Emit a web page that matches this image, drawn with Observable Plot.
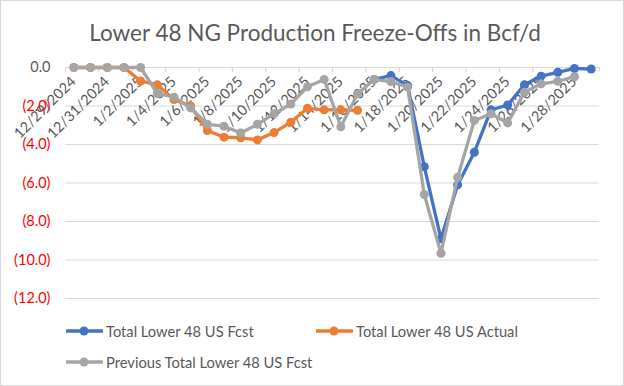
<!DOCTYPE html>
<html><head><meta charset="utf-8">
<script src="https://cdn.jsdelivr.net/npm/d3@7"></script>
<script src="https://cdn.jsdelivr.net/npm/@observablehq/plot@0.6"></script>
<style>
body{margin:0;background:#fff;}
#wrap{position:relative;width:624px;height:386px;overflow:hidden;background:#fff;font-family:Lato,sans-serif;color:#595959;}
#frame{position:absolute;left:0;top:0;width:624px;height:386px;box-sizing:border-box;border:1px solid #d9d9d9;pointer-events:none;}
#title{position:absolute;left:0;width:630px;top:21px;text-align:center;font-size:22.5px;line-height:23px;white-space:nowrap;}
#chart{position:absolute;left:0;top:0;}
.leg{position:absolute;display:flex;align-items:center;height:20px;font-size:14.7px;white-space:nowrap;color:#595959;}
.leg svg{margin-right:3px;display:block;}
</style></head>
<body>
<div id="wrap">
  <div id="chart"></div>
  <div id="title">Lower 48 NG Production Freeze-Offs in Bcf/d</div>
  <div id="legend"></div>
  <div id="frame"></div>
</div>
<script>
// ---- data ----
const dates = ["2024-12-29","2024-12-30","2024-12-31","2025-01-01","2025-01-02","2025-01-03","2025-01-04","2025-01-05",
  "2025-01-06","2025-01-07","2025-01-08","2025-01-09","2025-01-10","2025-01-11","2025-01-12","2025-01-13",
  "2025-01-14","2025-01-15","2025-01-16","2025-01-17","2025-01-18","2025-01-19","2025-01-20","2025-01-21",
  "2025-01-22","2025-01-23","2025-01-24","2025-01-25","2025-01-26","2025-01-27","2025-01-28","2025-01-29"];
const tickLabels = ["12/29/2024","12/31/2024","1/2/2025","1/4/2025","1/6/2025","1/8/2025","1/10/2025","1/12/2025",
  "1/14/2025","1/16/2025","1/18/2025","1/20/2025","1/22/2025","1/24/2025","1/26/2025","1/28/2025"];
const fcst = [null,null,null,null,null,null,null,null,null,null,null,null,null,null,null,null,null,null,
  -0.62,-0.42,-0.94,-5.15,-8.9,-6.1,-4.4,-2.2,-1.95,-0.9,-0.45,-0.25,-0.05,-0.08];
const actual = [0,0,0,0,-0.7,-0.9,-1.66,-2.0,-3.27,-3.62,-3.65,-3.76,-3.38,-2.84,-2.12,-2.2,-2.2,-2.22,
  null,null,null,null,null,null,null,null,null,null,null,null,null,null];
const prevFcst = [0,0,0,0,0,-1.35,-1.54,-2.1,-2.95,-3.05,-3.4,-2.95,-2.4,-1.9,-1.0,-0.62,-3.08,-1.37,
  -0.62,-0.73,-1.02,-6.6,-9.65,-5.7,-2.75,-2.4,-2.88,-1.28,-0.85,-0.72,-0.48,null];
const seriesNames = ["Total Lower 48 US Fcst","Total Lower 48 US Actual","Previous Total Lower 48 US Fcst"];
const seriesColors = ["#4472C4","#ED7D31","#A5A5A5"];
const yTicks = [0,-2,-4,-6,-8,-10,-12];

// ---- build ----
const DAY = 864e5;
const parsed = dates.map(s => new Date(s + "T00:00:00Z"));
const toRows = arr => parsed.map((d,i) => ({date:d, value:arr[i]})).filter(r => r.value != null);
const seriesRows = [fcst, actual, prevFcst].map(toRows);
const tickData = tickLabels.map((t,k) => ({date: parsed[2*k], label: t}));
const boundaries = parsed.filter((d,i) => i % 2 === 0).map(d => new Date(+d - DAY/2))
  .concat([new Date(+parsed[parsed.length-1] + DAY/2)]);
const fmt = v => v === 0 ? "0.0" : `(${Math.abs(v).toFixed(1)})`;

const W = 624, H = 310, MT = 67, MB = 12, ML = 65, MR = 25;
const frameH = H - MT - MB;
const font = 14.5;

const marks = [
  Plot.gridY(yTicks.filter(v => v < 0), {stroke:"#d9d9d9", strokeOpacity:1, strokeWidth:1.2}),
  Plot.ruleY([0], {stroke:"#d9d9d9", strokeWidth:1.2}),
  Plot.tickX(boundaries, {x: d => d, stroke:"#d9d9d9", strokeWidth:1.2, insetBottom: frameH - 5}),
  Plot.axisY(yTicks.filter(v => v === 0), {tickSize:0, tickPadding:15, tickFormat:fmt, fill:"#595959", fontSize:font, label:null}),
  Plot.axisY(yTicks.filter(v => v < 0), {tickSize:0, tickPadding:15, tickFormat:fmt, fill:"#FF0000", fontSize:font, label:null}),
  Plot.text(tickData, {x:"date", frameAnchor:"top", text:"label", rotate:-45, textAnchor:"end", lineAnchor:"bottom",
    dx:3, dy:15, fill:"#595959", fontSize:font})
];
seriesRows.forEach((rows, s) => {
  marks.push(Plot.line(rows, {x:"date", y:"value", stroke:seriesColors[s], strokeWidth:3.3, strokeLinejoin:"round", strokeLinecap:"round"}));
  marks.push(Plot.dot(rows, {x:"date", y:"value", r:4.5, fill:seriesColors[s]}));
});

const chart = Plot.plot({
  width: W, height: H,
  marginTop: MT, marginBottom: MB, marginLeft: ML, marginRight: MR,
  style: {fontFamily: "Lato, sans-serif", background: "transparent", overflow: "visible"},
  x: {type: "utc", domain: [new Date(+parsed[0] - DAY/2), new Date(+parsed[parsed.length-1] + DAY/2)], axis: null},
  y: {domain: [-12, 0], axis: null},
  marks
});
document.getElementById("chart").appendChild(chart);

// ---- legend ----
const legPos = [{left:66, top:331}, {left:316, top:331}, {left:66, top:362}];
const legend = document.getElementById("legend");
seriesNames.forEach((name, s) => {
  const div = document.createElement("div");
  div.className = "leg";
  div.style.left = legPos[s].left + "px";
  div.style.top = (legPos[s].top - 10) + "px";
  const c = seriesColors[s];
  div.innerHTML = `<svg width="37" height="12"><line x1="1" y1="6" x2="36" y2="6" stroke="${c}" stroke-width="3.3" stroke-linecap="round"/><circle cx="18" cy="6" r="4.5" fill="${c}"/></svg><span>${name}</span>`;
  legend.appendChild(div);
});
</script>
</body></html>
